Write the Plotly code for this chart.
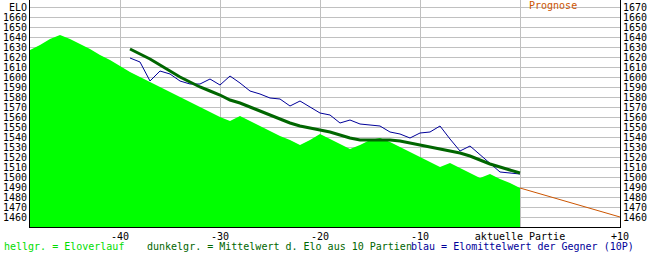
import plotly.graph_objects as go

# ---- data ----
games = list(range(-49, 1))
elo = [1627, 1632, 1638, 1642, 1638, 1633, 1628, 1622, 1617, 1611,
       1605, 1600, 1595, 1590, 1585, 1580, 1575, 1570, 1565, 1560,
       1556, 1561, 1556, 1551, 1546, 1541, 1537, 1532, 1537, 1543,
       1538, 1533, 1528, 1532, 1537, 1539, 1535, 1530, 1525, 1520,
       1515, 1510, 1514, 1509, 1504, 1499, 1503, 1498, 1494, 1489]

avg_games = list(range(-39, 1))
elo_avg10 = [1628, 1623, 1618, 1612, 1606, 1600, 1595, 1590, 1586, 1582,
             1577, 1574, 1570, 1566, 1562, 1558, 1554, 1551, 1549, 1547,
             1545, 1542, 1539, 1537, 1537, 1537, 1537, 1536, 1534, 1532,
             1530, 1528, 1526, 1524, 1521, 1517, 1513, 1510, 1507, 1504]
opp_avg10 = [1619, 1615, 1596, 1606, 1603, 1596, 1593, 1593, 1598, 1592,
             1601, 1594, 1586, 1583, 1579, 1578, 1571, 1576, 1570, 1564,
             1562, 1554, 1557, 1553, 1552, 1551, 1545, 1543, 1539, 1544,
             1545, 1551, 1538, 1526, 1531, 1522, 1514, 1505, 1504, 1503]

prog_games = [0, 10]
prog_elo = [1489, 1460]

x_ticks = [-40, -30, -20, -10, 0, 10]
x_ticktext = ["-40", "-30", "-20", "-10", "aktuelle Partie", "+10"]
y_ticks = list(range(1460, 1680, 10))
y_ticktext_left = [str(v) for v in y_ticks[:-1]] + ["ELO"]
y_ticktext_right = [str(v) for v in y_ticks]

FONT = "DejaVu Sans Mono"
W, H = 650, 253
L, R, T, B = 30, 30, 0, 26
plot_w = W - L - R
plot_h = H - T - B

fig = go.Figure()
fig.add_trace(go.Scatter(x=games, y=elo, mode="lines", fill="tozeroy",
                         line=dict(color="#00ff00", width=0),
                         fillcolor="#00ff00", hoverinfo="skip"))
fig.add_trace(go.Scatter(x=avg_games, y=opp_avg10, mode="lines",
                         line=dict(color="#000099", width=1)))
fig.add_trace(go.Scatter(x=avg_games, y=elo_avg10, mode="lines",
                         line=dict(color="#006600", width=3)))
fig.add_trace(go.Scatter(x=prog_games, y=prog_elo, mode="lines", yaxis="y2",
                         line=dict(color="#cc5500", width=1)))

fig.update_layout(
    width=W, height=H,
    margin=dict(l=L, r=R, t=T, b=B),
    paper_bgcolor="white", plot_bgcolor="white",
    showlegend=False,
    font=dict(family=FONT, size=10, color="black"),
    xaxis=dict(range=[-49, 10], tickvals=x_ticks, ticktext=x_ticktext,
               showgrid=True, gridcolor="#c0c0c0", gridwidth=1,
               zeroline=False, showline=True, linecolor="black", linewidth=1,
               ticks="", tickfont=dict(family=FONT, size=10, color="black")),
    yaxis=dict(range=[1450, 1677], tickvals=y_ticks, ticktext=y_ticktext_left,
               showgrid=True, gridcolor="#c0c0c0", gridwidth=1,
               zeroline=False, showline=True, linecolor="black", linewidth=1,
               ticks="", tickfont=dict(family=FONT, size=10, color="black")),
    yaxis2=dict(range=[1450, 1677], tickvals=y_ticks, ticktext=y_ticktext_right,
                overlaying="y", side="right", showgrid=False, zeroline=False,
                showline=True, linecolor="black", linewidth=1, ticks="",
                tickfont=dict(family=FONT, size=10, color="black")),
)

def px_x(p):
    return (p - L) / plot_w

def px_y(p):
    return (H - B - p) / plot_h

annots = [
    ("hellgr. = Eloverlauf", 2, "#00dd00"),
    ("dunkelgr. = Mittelwert d. Elo aus 10 Partien", 145, "#006600"),
    ("blau = Elomittelwert der Gegner (10P)", 409, "#000099"),
]
for text, xp, col in annots:
    fig.add_annotation(text=text, xref="paper", yref="paper",
                       x=px_x(xp), y=px_y(246.5), xanchor="left", yanchor="middle",
                       showarrow=False, font=dict(family=FONT, size=10, color=col))
fig.add_annotation(text="Prognose", xref="paper", yref="paper",
                   x=px_x(553), y=px_y(6), xanchor="center", yanchor="middle",
                   showarrow=False, font=dict(family=FONT, size=10, color="#cc5500"))

fig.write_html("out.html")
